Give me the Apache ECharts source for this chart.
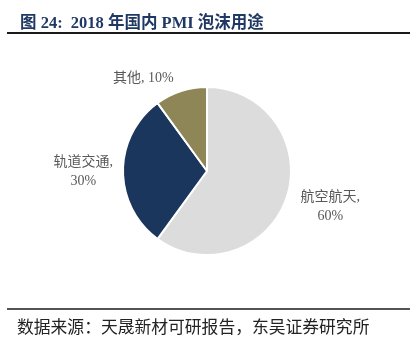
<!DOCTYPE html>
<html>
<head>
<meta charset="utf-8">
<script src="https://cdn.jsdelivr.net/npm/echarts@6/dist/echarts.min.js"></script>
<style>
  html, body { margin: 0; padding: 0; background: #fff; }
  #chart { width: 418px; height: 342px; }
</style>
</head>
<body>
<div id="chart"></div>
<script>
// PMI foam end uses in China, 2018 (share, %)
const categories = ['航空航天', '轨道交通', '其他'];
const shares = [60, 30, 10];
const sliceColors = ['#DCDCDC', '#1B365D', '#8E8656'];

const titleText = '图 24:  2018 年国内 PMI 泡沫用途';
const sourceText = '数据来源：天晟新材可研报告，东吴证券研究所';

const serif = '"Liberation Serif", "Noto Sans CJK SC", serif';

// small nudges applied to each slice label after the pie lays them out
const labelNudge = [
  { dx: 1, dy: 7 },
  { dx: 3, dy: 1 },
  { dx: 0, dy: -5 }
];

const chart = echarts.init(document.getElementById('chart'), null, { renderer: 'canvas' });

chart.setOption({
  animation: false,
  backgroundColor: '#fff',
  title: [
    {
      text: titleText,
      left: 15,
      top: 10,
      textStyle: { fontFamily: serif, fontSize: 16.5, fontWeight: 'bold', color: '#1F3864' }
    },
    {
      text: sourceText,
      left: 12,
      top: 315,
      textStyle: { fontFamily: serif, fontSize: 16.8, fontWeight: 'normal', color: '#222' }
    }
  ],
  graphic: [
    { type: 'line', shape: { x1: 7, y1: 33, x2: 410, y2: 33 }, style: { stroke: '#1a1a1a', lineWidth: 2 } },
    { type: 'line', shape: { x1: 7, y1: 309, x2: 410, y2: 309 }, style: { stroke: '#1a1a1a', lineWidth: 1.5 } }
  ],
  series: [{
    type: 'pie',
    center: [207, 171],
    radius: 84,
    startAngle: 90,
    clockwise: true,
    avoidLabelOverlap: false,
    data: categories.map((name, i) => ({
      name: name,
      value: shares[i],
      itemStyle: { color: sliceColors[i] }
    })),
    itemStyle: { borderColor: '#fff', borderWidth: 2 },
    label: {
      show: true,
      position: 'outside',
      fontFamily: serif,
      fontSize: 14,
      lineHeight: 19,
      color: '#595959',
      formatter: p => p.name + (p.name.length > 2 ? ',\n' : ', ') + p.value + '%'
    },
    labelLine: { show: false, length: 8, length2: 0 },
    labelLayout: params => {
      const n = labelNudge[params.dataIndex];
      return {
        x: params.labelRect.x + params.labelRect.width / 2 + n.dx,
        y: params.labelRect.y + params.labelRect.height / 2 + n.dy,
        align: 'center',
        verticalAlign: 'middle'
      };
    }
  }]
});
</script>
</body>
</html>
